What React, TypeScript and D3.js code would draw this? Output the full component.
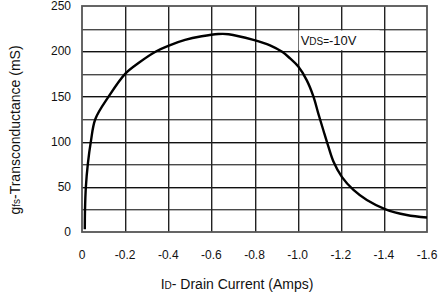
import React from 'react';
import * as d3 from 'd3';

// Drain current (A) and transconductance (mS)
const current = [-0.013, -0.014, -0.018, -0.027, -0.041, -0.062, -0.124, -0.2, -0.262, -0.345, -0.4, -0.478, -0.555, -0.632, -0.68, -0.795, -0.872, -0.93, -0.965, -1.003, -1.042, -1.073, -1.096, -1.12, -1.142, -1.166, -1.205, -1.259, -1.321, -1.405, -1.506, -1.6];
const gfs = [3, 25, 50, 75, 100, 125, 150, 175, 187, 200, 206, 212.5, 216.5, 219, 218.8, 212.5, 206.5, 199, 192, 183, 168, 150, 131, 112, 95, 78, 61, 46.5, 35.4, 25.4, 18.8, 16];

const xTicks = [0, -0.2, -0.4, -0.6, -0.8, -1.0, -1.2, -1.4, -1.6];
const xTickLabels = ['0', '-0.2', '-0.4', '-0.6', '-0.8', '-1.0', '-1.2', '-1.4', '-1.6'];
const yTicks = [0, 50, 100, 150, 200, 250];
const yGrid = [25, 50, 75, 100, 125, 150, 175, 200, 225];

const W = 440;
const H = 302;
const margin = { top: 6, right: 13, bottom: 70, left: 82 };
const font = 'Liberation Sans, Arial, sans-serif';

const x = d3.scaleLinear().domain([0, -1.6]).range([margin.left, W - margin.right]);
const y = d3.scaleLinear().domain([0, 250]).range([H - margin.bottom, margin.top]);

const App: React.FC = () => {
  const pts = current.map((c, i) => [c, gfs[i]] as [number, number]);
  const line = d3.line<[number, number]>()
    .x(d => x(d[0]))
    .y(d => y(d[1]))
    .curve(d3.curveCatmullRom.alpha(0.5));

  const left = Math.round(x(0));
  const right = Math.round(x(-1.6));
  const top = Math.round(y(250));
  const bottom = Math.round(y(0));
  const annX = x(-1.0) + 1;

  return (
    <svg width={W} height={H} style={{ position: 'absolute', left: 0, top: 0, background: '#fff' }}>
      {/* grid drawn as filled 1px bands so they stay crisp */}
      {yGrid.map(d => (
        <rect key={'h' + d} x={left} y={Math.round(y(d))} width={right - left} height={1.4}
          fill={d % 50 === 0 ? '#111' : '#4a4a4a'} />
      ))}
      {xTicks.slice(1, -1).map(d => (
        <rect key={'v' + d} x={Math.round(x(d))} y={top} width={1.4} height={bottom - top}
          fill="#222" />
      ))}
      <rect x={left} y={top} width={right - left} height={bottom - top}
        fill="none" stroke="#555" strokeWidth={1.8} />

      <rect x={annX} y={y(223)} width={x(-1.38) - annX} height={y(201) - y(223)} fill="#fff" />
      <text x={annX + 2} y={y(207)} fontFamily={font} fontSize={13} fill="#111">
        <tspan>V</tspan><tspan fontSize={10}>DS=</tspan><tspan>-10V</tspan>
      </text>

      <path d={line(pts) || ''} fill="none" stroke="#000" strokeWidth={2.4} />

      {yTicks.map(d => (
        <text key={'yt' + d} x={71} y={y(d)} dy="0.35em" textAnchor="end"
          fontFamily={font} fontSize={12} fill="#111">{d}</text>
      ))}
      {xTicks.map((d, i) => (
        <text key={'xt' + i} x={x(d)} y={259} textAnchor="middle"
          fontFamily={font} fontSize={12} fill="#111">{xTickLabels[i]}</text>
      ))}

      <text x={237} y={289} textAnchor="middle" fontFamily={font} fontSize={14} fill="#111">
        <tspan>I</tspan><tspan fontSize={10}>D</tspan><tspan>- Drain Current (Amps)</tspan>
      </text>
      <text transform="translate(20, 130) rotate(-90)" textAnchor="middle"
        fontFamily={font} fontSize={14} fill="#111">
        <tspan>g</tspan><tspan fontSize={10}>fs</tspan><tspan>-Transconductance (mS)</tspan>
      </text>
    </svg>
  );
};

export default App;
